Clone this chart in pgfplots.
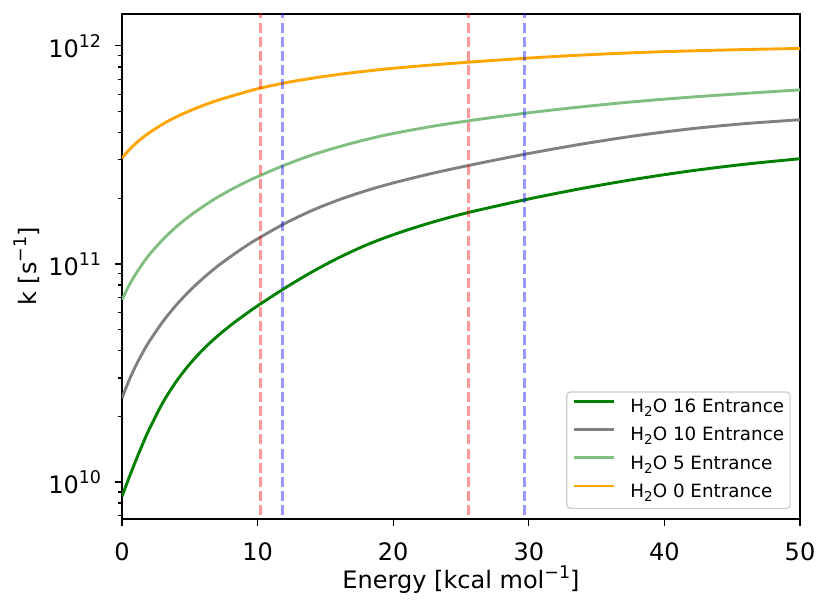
\documentclass[border=0pt]{standalone}
\usepackage{fontspec}
\setmainfont{DejaVu Sans}
\usepackage{pgfplots}
\pgfplotsset{compat=1.18}
\definecolor{cdg}{RGB}{0,128,0}
\definecolor{cgr}{RGB}{128,128,128}
\definecolor{clg}{RGB}{128,191,128}
\definecolor{cor}{RGB}{255,165,0}
\newcommand{\sups}[1]{\raisebox{0.42em}{\fontsize{17.5bp}{17.5bp}\selectfont #1}}
\newcommand{\subs}[1]{\raisebox{-0.22em}{\fontsize{13.5bp}{13.5bp}\selectfont #1}}
\pgfplotstableread{
x y
0 8.570e9
0.5 1.038e10
1 1.245e10
1.5 1.479e10
2 1.740e10
3 2.304e10
4 2.887e10
5 3.475e10
6 4.060e10
7 4.640e10
8 5.218e10
9 5.807e10
10 6.420e10
12 7.736e10
14 9.173e10
16 1.068e11
18 1.219e11
20 1.360e11
22 1.494e11
24 1.624e11
26 1.747e11
30 1.985e11
34 2.222e11
38 2.454e11
42 2.672e11
46 2.867e11
50 3.035e11
}\tabA
\pgfplotstableread{
x y
0 2.421e10
0.5 2.904e10
1 3.396e10
1.5 3.890e10
2 4.395e10
3 5.420e10
4 6.471e10
5 7.534e10
6 8.610e10
7 9.705e10
8 1.079e11
9 1.191e11
10 1.303e11
12 1.531e11
14 1.756e11
16 1.968e11
18 2.165e11
20 2.350e11
23 2.611e11
26 2.864e11
30 3.208e11
34 3.551e11
38 3.878e11
42 4.167e11
46 4.400e11
50 4.581e11
}\tabB
\pgfplotstableread{
x y
0 6.839e10
0.5 7.925e10
1 8.954e10
1.5 9.977e10
2 1.099e11
3 1.291e11
4 1.479e11
5 1.660e11
6 1.837e11
7 2.014e11
8 2.183e11
9 2.350e11
10 2.512e11
12 2.838e11
14 3.155e11
16 3.443e11
18 3.715e11
20 3.963e11
23 4.285e11
26 4.571e11
30 4.932e11
34 5.260e11
38 5.559e11
42 5.821e11
46 6.053e11
50 6.281e11
}\tabC
\pgfplotstableread{
x y
0 3.055e11
0.5 3.319e11
1 3.560e11
1.5 3.784e11
2 3.990e11
3 4.375e11
4 4.721e11
5 5.035e11
6 5.333e11
7 5.610e11
8 5.861e11
9 6.109e11
10 6.353e11
12 6.761e11
14 7.096e11
16 7.396e11
18 7.656e11
20 7.888e11
23 8.184e11
26 8.453e11
30 8.790e11
34 9.078e11
38 9.311e11
42 9.484e11
46 9.616e11
50 9.728e11
}\tabD
\begin{document}
\begin{tikzpicture}
\useasboundingbox (-122bp,-91bp) rectangle (709bp,519bp);
\begin{axis}[
  at={(0,0)}, anchor=south west,
  scale only axis, width=678bp, height=505bp,
  xmin=0, xmax=50, ymode=log, ymin=6.76e9, ymax=1.40e12,
  axis line style={line width=1.4bp, black},
  every tick/.style={line width=1.3bp, black},
  tick align=outside,
  major tick length=7bp, minor tick length=4bp,
  xtick pos=bottom, ytick pos=left,
  xtick={0,10,20,30,40,50}, xticklabels={0,10,20,30,40,50},
  ytick={1e10,1e11,1e12}, yticklabels={10\sups{10},10\sups{11},10\sups{12}},
  minor ytick={7e9,8e9,9e9,2e10,3e10,4e10,5e10,6e10,7e10,8e10,9e10,2e11,3e11,4e11,5e11,6e11,7e11,8e11,9e11},
  tick label style={font=\fontsize{24bp}{28bp}\selectfont},
  xticklabel style={anchor=base, inner sep=0pt, yshift=-34.3bp},
  yticklabel style={anchor=east, inner sep=0pt, xshift=-13.7bp},
  label style={font=\fontsize{24bp}{28bp}\selectfont},
  xlabel={Energy [kcal mol\sups{−1}]},
  xlabel style={at={(axis description cs:0.5,0)}, anchor=base, yshift=-70bp, inner sep=0pt},
  ylabel={k [s\sups{−1}]},
  ylabel style={at={(axis description cs:-0.1254,0.5)}, anchor=base, inner sep=0pt},
  legend style={at={(rel axis cs:0.9863,0.0198)}, anchor=south east,
    font=\fontsize{18.3bp}{22bp}\selectfont, draw=black!20, line width=1.2bp,
    rounded corners=3.5bp, fill=white, fill opacity=0.8, text opacity=1,
    inner xsep=6bp, inner ysep=7bp, row sep=10.8bp, column sep=14.7bp,
    nodes={inner sep=0pt, text height=13.5bp, text depth=4bp}},
  legend cell align=left,
  legend image code/.code={\draw[#1] (0bp,6.6bp) -- (40bp,6.6bp);},
]
\addplot[smooth, line width=2.9bp, color=cdg] table {\tabA};
\addlegendentry{H\subs{2}O 16 Entrance}
\addplot[smooth, line width=2.9bp, color=cgr] table {\tabB};
\addlegendentry{H\subs{2}O 10 Entrance}
\addplot[smooth, line width=2.9bp, color=clg] table {\tabC};
\addlegendentry{H\subs{2}O 5 Entrance}
\addplot[smooth, line width=2.9bp, color=cor] table {\tabD};
\addlegendentry{H\subs{2}O 0 Entrance}
\addplot[forget plot, line width=2.6bp, red, opacity=0.4, dash pattern=on 9.9bp off 4.3bp] coordinates {(10.2,1e9) (10.2,1e13)};
\addplot[forget plot, line width=2.6bp, blue, opacity=0.4, dash pattern=on 9.9bp off 4.3bp] coordinates {(11.85,1e9) (11.85,1e13)};
\addplot[forget plot, line width=2.6bp, red, opacity=0.4, dash pattern=on 9.9bp off 4.3bp] coordinates {(25.54,1e9) (25.54,1e13)};
\addplot[forget plot, line width=2.6bp, blue, opacity=0.4, dash pattern=on 9.9bp off 4.3bp] coordinates {(29.67,1e9) (29.67,1e13)};
\end{axis}
\end{tikzpicture}
\end{document}
